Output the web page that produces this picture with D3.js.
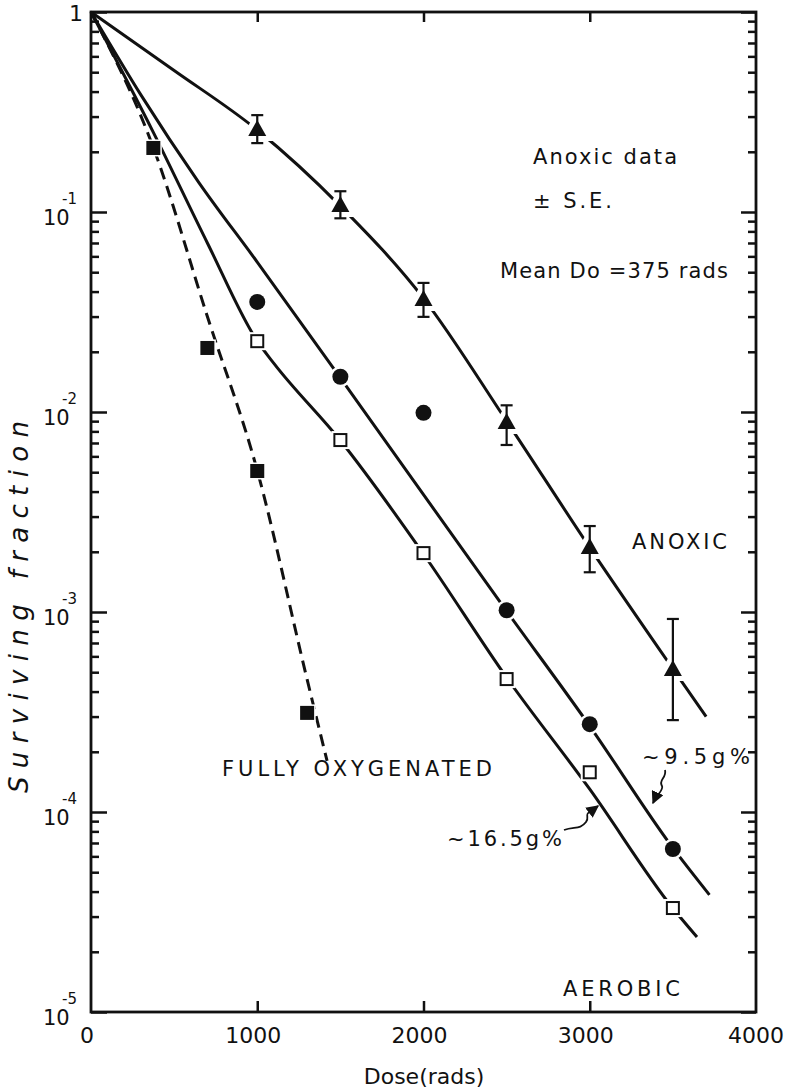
<!DOCTYPE html>
<html lang="en">
<head>
<meta charset="utf-8">
<script src="https://d3js.org/d3.v7.min.js"></script>
<style>
body { margin: 0; background: #fff; }
text { font-family: "DejaVu Sans", sans-serif; fill: #111; }
</style>
</head>
<body>
</body>
<script type="text/javascript">

// measured points
var anoxicDose = [1000, 1500, 2000, 2500, 3000, 3500];
var anoxicSF   = [0.257, 0.107, 0.0363, 0.0088, 0.00209, 0.000513];
var anoxicHi   = [0.305, 0.127, 0.0442, 0.0108, 0.00269, 0.000923];
var anoxicLo   = [0.221, 0.093, 0.0299, 0.00684, 0.00158, 0.000288];

var hb95Dose = [1000, 1500, 2000, 2500, 3000, 3500];
var hb95SF   = [0.0355, 0.015, 0.0099, 0.00102, 0.000275, 0.0000653];

var hb165Dose = [1000, 1500, 2000, 2500, 3000, 3500];
var hb165SF   = [0.0226, 0.00724, 0.00197, 0.000462, 0.000158, 0.0000331];

var oxyDose = [375, 700, 1000, 1300];
var oxySF   = [0.209, 0.0209, 0.00507, 0.000313];

// fitted curves
var anoxicCurveDose = [0, 500, 1000, 1500, 2000, 2500, 3000, 3500, 3700];
var anoxicCurveSF   = [1, 0.51, 0.257, 0.107, 0.037, 0.0090, 0.0021, 0.00052, 0.0003];

var hb95CurveDose = [0, 300, 650, 1000, 1500, 2500, 3000, 3500, 3720];
var hb95CurveSF   = [1, 0.385, 0.14, 0.0562, 0.0148, 0.00101, 0.000269, 0.0000661, 0.0000385];

var hb165CurveDose = [0, 375, 700, 1000, 1100, 1500, 2000, 2500, 3000, 3500, 3645];
var hb165CurveSF   = [1, 0.25, 0.07, 0.0226, 0.0175, 0.0072, 0.00195, 0.00047, 0.00013, 0.000033, 0.0000237];

var oxyCurveDose = [0, 375, 700, 1000, 1300, 1420];
var oxyCurveSF   = [1, 0.21, 0.03, 0.0051, 0.00046, 0.00018];

var xTicks = [0, 1000, 2000, 3000, 4000];
var yDecades = [1, 1e-1, 1e-2, 1e-3, 1e-4, 1e-5];
var yLabels = ["1", "-1", "-2", "-3", "-4", "-5"];

var svg = d3.select("body")
  .append("svg")
  .attr("width", 797)
  .attr("height", 1092);

svg.append("rect").attr("width", 797).attr("height", 1092).attr("fill", "#fff");

var x = d3.scaleLinear().domain([0, 4000]).range([91, 756]);
var y = d3.scaleLog().domain([1, 1e-5]).range([12, 1012]);

var minors = [];
for (var k = 0; k < 5; k++) {
  for (var m = 2; m < 10; m++) minors.push(m * Math.pow(10, -(k + 1)));
}

function styleAxis(g) {
  g.select(".domain").remove();
  g.selectAll("line").attr("stroke", "#111").attr("stroke-width", 2.5);
  g.selectAll("text").remove();
}

// left axis ticks (inward)
svg.append("g").attr("transform", "translate(91,0)")
  .call(d3.axisRight(y).tickValues(yDecades).tickSize(16).tickFormat(""))
  .call(styleAxis);
svg.append("g").attr("transform", "translate(91,0)")
  .call(d3.axisRight(y).tickValues(minors).tickSize(8).tickFormat(""))
  .call(styleAxis);
// right axis ticks (inward)
svg.append("g").attr("transform", "translate(756,0)")
  .call(d3.axisLeft(y).tickValues(yDecades).tickSize(15).tickFormat(""))
  .call(styleAxis);
svg.append("g").attr("transform", "translate(756,0)")
  .call(d3.axisLeft(y).tickValues(minors).tickSize(8).tickFormat(""))
  .call(styleAxis);
// top and bottom ticks
svg.append("g").attr("transform", "translate(0,12)")
  .call(d3.axisBottom(x).tickValues([1000, 2000, 3000]).tickSize(10).tickFormat(""))
  .call(styleAxis);
svg.append("g").attr("transform", "translate(0,1012)")
  .call(d3.axisTop(x).tickValues([1000, 2000, 3000]).tickSize(11).tickFormat(""))
  .call(styleAxis);

// frame
svg.append("rect")
  .attr("x", x(0)).attr("y", y(1))
  .attr("width", x(4000) - x(0)).attr("height", y(1e-5) - y(1))
  .attr("fill", "none").attr("stroke", "#111").attr("stroke-width", 2.8);

// tick labels
svg.selectAll(".xl").data(xTicks).enter().append("text")
  .attr("x", function (d) { return x(d) - (d == 4000 ? 0 : 4); })
  .attr("y", 1043)
  .attr("text-anchor", "middle")
  .attr("font-size", 22)
  .text(function (d) { return d; });

yDecades.forEach(function (v, i) {
  if (i == 0) {
    svg.append("text").attr("x", 76).attr("y", y(v) + 9)
      .attr("text-anchor", "middle").attr("font-size", 22).text("1");
    return;
  }
  svg.append("text").attr("x", 43).attr("y", y(v) + 13).attr("font-size", 21).text("10");
  svg.append("text").attr("x", 62).attr("y", y(v) - 8).attr("font-size", 15).text(yLabels[i]);
});

svg.append("text").attr("x", 424).attr("y", 1084)
  .attr("text-anchor", "middle").attr("font-size", 22).text("Dose(rads)");

svg.append("text")
  .attr("transform", "translate(28,607) rotate(-90)")
  .attr("text-anchor", "middle").attr("font-size", 26)
  .attr("font-style", "italic")
  .attr("textLength", 372).attr("lengthAdjust", "spacing")
  .text("Surviving  fraction");

// curves
function line(doses, sfs) {
  var pts = doses.map(function (d, i) { return [x(d), y(sfs[i])]; });
  return d3.line().curve(d3.curveMonotoneX)(pts);
}

var curves = [
  [anoxicCurveDose, anoxicCurveSF, null],
  [hb95CurveDose, hb95CurveSF, null],
  [hb165CurveDose, hb165CurveSF, null],
  [oxyCurveDose, oxyCurveSF, "12,7"]
];
curves.forEach(function (c) {
  svg.append("path").attr("d", line(c[0], c[1]))
    .attr("fill", "none").attr("stroke", "#111").attr("stroke-width", 3)
    .attr("stroke-dasharray", c[2]);
});

// markers with white halo so the curves break round them
var halo = 5;

function tri(cx, cy) {
  return "M" + cx + "," + (cy - 10) + "L" + (cx + 9) + "," + (cy + 6) + "L" + (cx - 9) + "," + (cy + 6) + "Z";
}

anoxicDose.forEach(function (d, i) {
  var cx = x(d), cy = y(anoxicSF[i]);
  svg.append("path").attr("d", tri(cx, cy))
    .attr("fill", "#fff").attr("stroke", "#fff").attr("stroke-width", halo * 2);
  var g = svg.append("g").attr("stroke", "#111").attr("stroke-width", 2.2);
  g.append("line").attr("x1", cx).attr("x2", cx).attr("y1", y(anoxicHi[i])).attr("y2", y(anoxicLo[i]));
  g.append("line").attr("x1", cx - 6).attr("x2", cx + 6).attr("y1", y(anoxicHi[i])).attr("y2", y(anoxicHi[i]));
  g.append("line").attr("x1", cx - 6).attr("x2", cx + 6).attr("y1", y(anoxicLo[i])).attr("y2", y(anoxicLo[i]));
  svg.append("path").attr("d", tri(cx, cy)).attr("fill", "#111");
});

hb95Dose.forEach(function (d, i) {
  svg.append("circle").attr("cx", x(d)).attr("cy", y(hb95SF[i])).attr("r", 8)
    .attr("fill", "#111").attr("stroke", "#fff").attr("stroke-width", halo)
    .attr("paint-order", "stroke");
});

hb165Dose.forEach(function (d, i) {
  var cx = x(d), cy = y(hb165SF[i]);
  svg.append("rect").attr("x", cx - 9).attr("y", cy - 9).attr("width", 18).attr("height", 18)
    .attr("fill", "#fff");
  svg.append("rect").attr("x", cx - 6).attr("y", cy - 6).attr("width", 12).attr("height", 12)
    .attr("fill", "#fff").attr("stroke", "#111").attr("stroke-width", 2);
});

oxyDose.forEach(function (d, i) {
  var cx = x(d), cy = y(oxySF[i]);
  svg.append("rect").attr("x", cx - 7).attr("y", cy - 7).attr("width", 14).attr("height", 14)
    .attr("fill", "#111").attr("stroke", "#fff").attr("stroke-width", 3)
    .attr("paint-order", "stroke");
});

// annotations
function note(tx, ty, len, s) {
  svg.append("text").attr("x", tx).attr("y", ty).attr("font-size", 21)
    .attr("textLength", len).attr("lengthAdjust", "spacing").text(s);
}
note(533, 164, 144, "Anoxic  data");
note(533, 208, 79, "± S.E.");
note(500, 278, 228, "Mean  Do =375 rads");
note(632, 549, 95, "ANOXIC");
note(222, 776, 270, "FULLY  OXYGENATED");
note(642, 764, 108, "~9.5g%");
note(447, 846, 115, "~16.5g%");
note(563, 996, 117, "AEROBIC");

svg.append("defs").append("marker")
  .attr("id", "head").attr("viewBox", "0 0 10 10").attr("refX", 9).attr("refY", 5)
  .attr("markerWidth", 7).attr("markerHeight", 7).attr("orient", "auto")
  .append("path").attr("d", "M0,0L10,5L0,10Z").attr("fill", "#111");

svg.append("path")
  .attr("d", "M665,770 C667,778 658,780 662,786 C664,790 657,794 653,803")
  .attr("fill", "none").attr("stroke", "#111").attr("stroke-width", 1.8)
  .attr("marker-end", "url(#head)");
svg.append("path")
  .attr("d", "M564,830 C574,826 580,830 586,822 C590,818 584,814 590,812 L598,806")
  .attr("fill", "none").attr("stroke", "#111").attr("stroke-width", 1.8)
  .attr("marker-end", "url(#head)");

</script>
</html>
